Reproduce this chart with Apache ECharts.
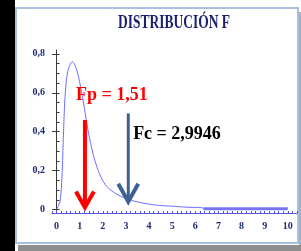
<!DOCTYPE html>
<html>
<head>
<meta charset="utf-8">
<script src="https://cdn.jsdelivr.net/npm/echarts@6/dist/echarts.min.js"></script>
<style>
  html, body { margin: 0; padding: 0; background: #fff; }
  #chart { width: 301px; height: 251px; }
</style>
</head>
<body>
<div id="chart"></div>
<script>
// curva de densidad F
var curveX = [0, 0.14, 0.22, 0.29, 0.36, 0.48, 0.68, 0.87, 1.08, 1.23, 1.37, 1.59, 1.80, 2.09, 2.45, 2.96, 3.53, 4.2, 4.55, 5.0, 5.6, 6.3, 6.35];
var curveY = [0, 0.038, 0.14, 0.365, 0.57, 0.71, 0.76, 0.717, 0.605, 0.50, 0.40, 0.28, 0.20, 0.13, 0.09, 0.058, 0.038, 0.024, 0.02, 0.017, 0.012, 0.009, 0.004];
var tailX = [6.35, 10];
var tailY = [0.004, 0.004];

// flechas: [x, yArriba, yPunta, xTexto, yTexto]
var fpArrow = [1.225, 0.46, 0.0, 0.84, 0.589];
var fcArrow = [3.10, 0.494, 0.03, 3.31, 0.386];
var fpText = 'Fp = 1,51';
var fcText = 'Fc = 2,9946';

var xLabels = [0, 1, 2, 3, 4, 5, 6, 7, 8, 9, 10];
var yLabels = [0, 0.2, 0.4, 0.6, 0.8];
var yMinorTicks = [0, 0.05, 0.1, 0.15, 0.2, 0.25, 0.3, 0.35, 0.4, 0.45, 0.5, 0.55, 0.6, 0.65, 0.7, 0.75, 0.8];

function pairs(xs, ys) {
    var out = [];
    for (var i = 0; i < xs.length; i++) out.push([xs[i], ys[i]]);
    return out;
}

function arrowSeries(arr, label, color, barW, hw, hh, textColor) {
    return {
        type: 'custom',
        data: [arr],
        z: 5,
        renderItem: function (params, api) {
            var top = api.coord([api.value(0), api.value(1)]);
            var tip = api.coord([api.value(0), api.value(2)]);
            var txt = api.coord([api.value(3), api.value(4)]);
            tip[1] -= 2;
            return {
                type: 'group',
                children: [
                    { type: 'line', shape: { x1: top[0], y1: top[1], x2: tip[0], y2: tip[1] - 2 },
                      style: { stroke: color, lineWidth: barW } },
                    { type: 'polyline', shape: { points: [[tip[0] - hw, tip[1] - hh], [tip[0], tip[1]], [tip[0] + hw, tip[1] - hh]] },
                      style: { stroke: color, lineWidth: 4, fill: null, lineJoin: 'miter' } },
                    { type: 'text', x: txt[0], y: txt[1],
                      style: { text: label, fill: textColor, font: 'bold 18px "Liberation Serif"', align: 'left', verticalAlign: 'middle' } }
                ]
            };
        }
    };
}

var chart = echarts.init(document.getElementById('chart'));
var labelStyle = { color: '#1f2a78', fontFamily: 'Liberation Serif', fontWeight: 'bold', fontSize: 10 };

var option = {
    animation: false,
    backgroundColor: '#fff',
    grid: { left: 52, right: 4, top: 50, bottom: 38 },
    graphic: [
        { type: 'rect', z: -10, shape: { x: 0, y: 0, width: 15, height: 251 }, style: { fill: '#000' } },
        { type: 'rect', z: -10, shape: { x: 18, y: 245, width: 283, height: 6 }, style: { fill: '#8e8e8e' } },
        { type: 'rect', z: -10, shape: { x: 16, y: 8, width: 282, height: 235 }, style: { fill: '#fff', stroke: '#a9bfdd', lineWidth: 2 } },
        { type: 'rect', z: -10, shape: { x: 299, y: 12, width: 2, height: 233 }, style: { fill: '#9bb2d2' } },
        { type: 'text', z: 10, x: 174, y: 23, scaleX: 0.75,
          style: { text: 'DISTRIBUCIÓN F', fill: '#1c1f6e', font: 'bold 18px "Liberation Serif"', align: 'center', verticalAlign: 'middle' } }
    ],
    xAxis: {
        type: 'value', min: -0.2, max: 10.4, interval: 0.2,
        splitLine: { show: false },
        axisLine: { onZero: false, lineStyle: { color: '#5555dd', width: 1 } },
        axisTick: { inside: true, length: 2, lineStyle: { color: '#5555dd' } },
        axisLabel: Object.assign({ customValues: xLabels, margin: 8 }, labelStyle)
    },
    yAxis: [{
        type: 'value', min: -0.018, max: 0.82,
        splitLine: { show: false },
        axisLine: { show: true, lineStyle: { color: '#3a3a3a' } },
        axisTick: { show: true, inside: true, length: 3, customValues: yMinorTicks, lineStyle: { color: '#3a3a3a' } },
        axisLabel: Object.assign({ customValues: yLabels, margin: 7,
            formatter: function (v) { return String(v).replace('.', ','); } }, labelStyle)
    }, {
        type: 'value', min: -0.018, max: 0.82, position: 'left',
        splitLine: { show: false },
        axisLine: { show: false },
        axisTick: { show: true, inside: true, length: 6, customValues: yLabels, lineStyle: { color: '#3a3a3a' } },
        axisLabel: { show: false }
    }],
    series: [
        { type: 'line', data: pairs(curveX, curveY), smooth: 0.3, symbol: 'none',
          lineStyle: { color: '#6e6eff', width: 1 } },
        { type: 'line', data: pairs(tailX, tailY), symbol: 'none',
          lineStyle: { color: '#7474f4', width: 3 } },
        arrowSeries(fpArrow, fpText, '#ff0000', 4, 9, 16, '#ff0000'),
        arrowSeries(fcArrow, fcText, '#3d6291', 3, 10, 18, '#000000')
    ]
};
chart.setOption(option);
</script>
</body>
</html>
